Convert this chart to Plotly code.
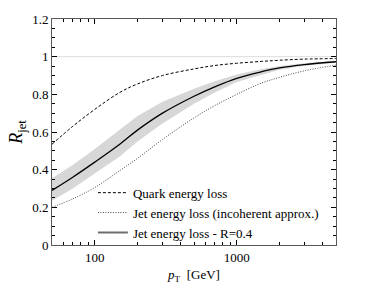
import plotly.graph_objects as go

pt = [50, 70, 100, 150, 200, 300, 500, 700, 1000, 1500, 2000, 3000, 5000]
quark = [0.535, 0.63, 0.72, 0.81, 0.855, 0.90, 0.935, 0.953, 0.965, 0.975, 0.981, 0.987, 0.99]
incoherent = [0.20, 0.245, 0.305, 0.395, 0.46, 0.56, 0.675, 0.74, 0.80, 0.86, 0.89, 0.925, 0.955]
jet04 = [0.29, 0.36, 0.44, 0.535, 0.61, 0.70, 0.79, 0.84, 0.885, 0.92, 0.94, 0.958, 0.973]
band_lo = [0.235, 0.30, 0.38, 0.47, 0.55, 0.645, 0.75, 0.81, 0.865, 0.905, 0.93, 0.952, 0.968]
band_hi = [0.355, 0.425, 0.51, 0.61, 0.685, 0.76, 0.83, 0.87, 0.905, 0.935, 0.95, 0.965, 0.978]

font = "Liberation Serif, Times New Roman, serif"

fig = go.Figure()
fig.add_trace(go.Scatter(x=pt, y=band_lo, mode="lines", line=dict(width=0), showlegend=False, hoverinfo="skip"))
fig.add_trace(go.Scatter(x=pt, y=band_hi, mode="lines", line=dict(width=0), fill="tonexty",
                         fillcolor="rgb(215,215,215)", showlegend=False, hoverinfo="skip"))
fig.add_trace(go.Scatter(x=[pt[0], pt[-1]], y=[1, 1], mode="lines", line=dict(color="rgb(220,220,220)", width=1),
                         showlegend=False, hoverinfo="skip"))
fig.add_trace(go.Scatter(x=pt, y=quark, mode="lines", line=dict(color="black", width=1, dash="3px,2px", shape="spline"),
                         name="Quark energy loss"))
fig.add_trace(go.Scatter(x=pt, y=incoherent, mode="lines", line=dict(color="rgb(70,70,70)", width=1, dash="1px,1.5px", shape="spline"),
                         name="Jet energy loss (incoherent approx.)"))
fig.add_trace(go.Scatter(x=pt, y=jet04, mode="lines", line=dict(color="black", width=1.3, shape="spline"),
                         showlegend=False))
fig.add_trace(go.Scatter(x=[None], y=[None], mode="lines", line=dict(color="rgb(110,110,110)", width=2),
                         name="Jet energy loss - R=0.4"))

xminor = [60, 70, 80, 90, 200, 300, 400, 500, 600, 700, 800, 900, 2000, 3000, 4000]

fig.update_layout(
    width=374, height=292,
    margin=dict(l=52, r=38, t=15, b=45),
    paper_bgcolor="white", plot_bgcolor="white",
    font=dict(family=font, size=13, color="black"),
    showlegend=True,
    legend=dict(x=0.144, y=-0.012, xanchor="left", yanchor="bottom", bgcolor="rgba(0,0,0,0)",
                traceorder="normal", font=dict(family=font, size=13), tracegroupgap=0, itemwidth=30),
    xaxis=dict(type="log", range=[1.699, 3.699], tickvals=[100, 1000], ticktext=["100", "1000"],
               ticks="inside", ticklen=5, tickcolor="black", showline=True, linecolor="rgb(90,90,90)",
               linewidth=1, mirror="ticks", showgrid=False, zeroline=False,
               minor=dict(tickvals=xminor, ticks="inside", ticklen=3, tickcolor="black", showgrid=False),
               title=dict(text="<i>p</i><sub>T</sub>  [GeV]", font=dict(family=font, size=13), standoff=6)),
    yaxis=dict(range=[0, 1.2], tickvals=[0, 0.2, 0.4, 0.6, 0.8, 1, 1.2],
               ticktext=["0", "0.2", "0.4", "0.6", "0.8", "1", "1.2"],
               ticks="inside", ticklen=5, tickcolor="black", showline=True, linecolor="rgb(90,90,90)",
               linewidth=1, mirror="ticks", showgrid=False, zeroline=False,
               minor=dict(dtick=0.05, ticks="inside", ticklen=3, tickcolor="black", showgrid=False),
               title=dict(text="<i>R</i><sub>jet</sub>", font=dict(family=font, size=18), standoff=4)),
)

fig.write_html("out.html", config={"displayModeBar": False},
               post_script="document.body.style.margin='0';")
